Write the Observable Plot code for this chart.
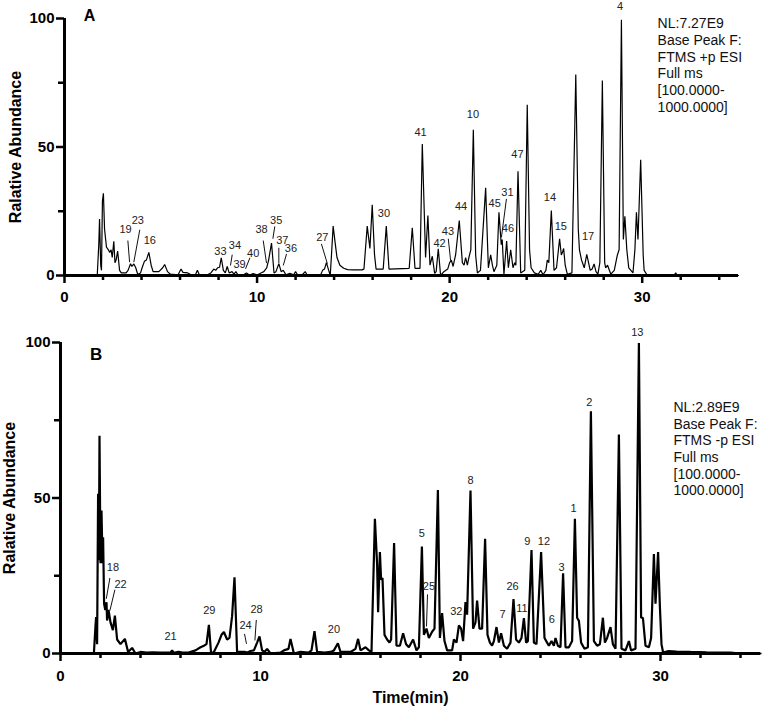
<!DOCTYPE html>
<html>
<head>
<meta charset="utf-8">
<script src="https://cdn.jsdelivr.net/npm/d3@7"></script>
<script src="https://cdn.jsdelivr.net/npm/@observablehq/plot@0.6"></script>
<style>
  html, body { margin: 0; padding: 0; background: #fff; }
  #chart { width: 764px; height: 712px; }
  #chart svg { display: block; }
</style>
</head>
<body>
<div id="chart"></div>
<script>
// ---------- Panel A (positive ion) ----------
const timeA = [0,1.70,1.78,1.82,1.88,1.92,1.97,2.02,2.08,2.18,2.28,2.35,2.42,2.48,2.56,2.62,2.68,2.76,2.86,2.95,3.2,3.3,3.43,3.5,3.6,3.7,3.8,3.95,4.03,4.15,4.25,4.38,4.5,4.6,4.9,5.1,5.2,5.35,5.5,5.9,6.05,6.15,6.4,6.6,6.8,6.9,7.0,7.4,7.6,7.75,7.85,7.95,8.05,8.14,8.25,8.35,8.45,8.55,8.7,8.8,8.9,9.0,9.3,9.45,9.6,9.8,10.0,10.2,10.35,10.5,10.6,10.75,10.88,10.98,11.13,11.25,11.36,11.5,11.7,11.9,12.0,12.1,12.35,12.5,12.6,13.3,13.4,13.5,13.6,13.72,13.8,13.88,13.95,14.05,14.15,14.3,14.5,14.7,15.0,15.45,15.55,15.72,15.86,15.98,16.1,16.18,16.55,16.71,16.85,17.9,18.06,18.2,18.46,18.58,18.75,18.87,18.98,19.1,19.22,19.3,19.41,19.53,19.7,19.9,20.0,20.09,20.18,20.22,20.31,20.5,20.66,20.75,20.83,20.92,21.0,21.1,21.23,21.35,21.44,21.6,21.87,22.01,22.13,22.22,22.3,22.45,22.56,22.68,22.73,22.82,22.96,23.05,23.17,23.29,23.38,23.44,23.55,23.69,23.9,24.03,24.15,24.23,24.4,24.6,24.73,24.85,25.0,25.07,25.15,25.28,25.42,25.55,25.71,25.8,25.86,25.92,26.0,26.11,26.35,26.55,26.68,26.74,26.85,26.99,27.12,27.3,27.4,27.5,27.6,27.7,27.8,27.93,28.05,28.1,28.2,28.37,28.55,28.71,28.8,28.92,29.02,29.1,29.2,29.3,29.52,29.62,29.7,29.78,29.92,30.05,30.1,30.27,31.65,31.74,31.82,35];
const abundA = [0,0,12,22,4,2,29,32,18,11,10,9,10,7,13.3,5,6,9.5,2,1,1,2,4.6,3.5,4.5,3,0.5,1,3,5.5,6,9,4,1.5,1.5,3,4.3,1.5,0.5,0.3,2.5,1.2,1,0.2,0.3,2,0.3,0.2,1,2.5,2,3,3.2,6.9,2,1,3.5,1,1.5,0.5,1.5,0.3,0.3,1,0.2,0.8,0.2,1,1.5,3,6,12.6,1,1.5,4.6,1.5,2,0.3,0.8,0.3,1.5,0.3,0.3,1.5,0.2,0.2,2,2.5,5,2,0,10,19.2,13,7,4,2.8,2.3,2.2,2.2,2.5,19.2,10.5,27.5,8,2.5,2.5,19.2,2.5,2.8,18.6,2.8,2.8,51.2,7,23.3,4,7.5,0.8,1.5,10.4,0,1.5,2.5,5,6,3.5,5,8,21.4,5,4,7,4,7,10,56.7,8,1,2,34.1,3,8,4,1.5,4,24.6,12,14,0.5,13.4,3,10,3,5,4,40.6,1,2,66.4,10,3,1,0.5,2,0.3,2,6,5,25.3,2,3,14.3,8,9,10.5,4,0.5,1,78.2,18,10,6,3,8.2,2,2.5,4.5,1.5,0.5,5,75.9,5,3,4,0.5,2,8,10,99.5,14,23,10,3,1,10,24.6,14,45,8,2,0,0,1,0,0];

const peakTextA = ["19","23","16","33","34","39","40","38","35","37","36","27","30","41","42","43","44","10","45","31","46","47","14","15","17","4"];
const peakTimeA = [3.17,3.81,4.43,8.10,8.85,9.09,9.80,10.23,10.99,11.31,11.76,13.39,16.59,18.49,19.48,19.91,20.59,21.21,22.34,23.0,23.03,23.52,25.21,25.77,27.19,28.85];
const peakAbundA = [17.9,21.4,13.6,9.3,11.6,4.2,8.7,17.9,21.4,13.6,10.4,14.9,24.0,55.5,12.3,17.2,26.8,62.5,28.1,32.4,18.2,47.0,30.5,19.1,15.2,104.7];

const leadT1A = [3.29,3.91,8.71,9.63,10.32,10.92,11.13,11.53,13.34,19.93,22.95];
const leadV1A = [13.6,17.8,8.1,6.9,13.6,19.1,10.8,8.4,12.3,14.3,29.8];
const leadT2A = [3.38,3.60,8.62,9.40,10.49,10.82,11.13,11.36,13.65,20.05,22.69];
const leadV2A = [5.2,5.2,3.9,2.6,4.8,14.3,4.8,3.9,4.6,5.8,14.9];

const infoA = ["NL:7.27E9","Base Peak F:","FTMS +p ESI","Full ms","[100.0000-","1000.0000]"];

// ---------- Panel B (negative ion) ----------
const timeB = [0,1.67,1.75,1.78,1.83,1.88,1.92,1.95,2.0,2.05,2.1,2.13,2.18,2.24,2.3,2.33,2.4,2.5,2.62,2.72,2.83,3.0,3.22,3.38,3.58,3.75,4.0,4.3,4.6,5.0,5.5,5.58,5.66,5.9,6.1,6.4,6.75,7.0,7.17,7.3,7.42,7.53,7.67,7.9,8.05,8.17,8.33,8.45,8.58,8.7,8.83,9.2,9.35,9.5,9.67,9.83,9.95,10.08,10.2,10.33,10.5,11.0,11.17,11.4,11.5,11.67,12.0,12.4,12.55,12.7,12.83,13.2,13.5,13.67,13.87,14.0,14.5,14.75,14.88,15.0,15.25,15.42,15.55,15.72,15.83,15.88,15.97,16.03,16.1,16.2,16.33,16.45,16.53,16.68,16.8,16.97,17.13,17.28,17.42,17.63,17.8,17.92,18.07,18.17,18.3,18.42,18.58,18.7,18.87,18.97,19.08,19.2,19.33,19.58,19.67,19.8,19.92,20.03,20.13,20.25,20.33,20.5,20.63,20.75,20.83,20.95,21.08,21.23,21.35,21.47,21.58,21.67,21.8,21.92,22.03,22.17,22.33,22.5,22.65,22.78,22.92,23.05,23.17,23.28,23.37,23.55,23.67,23.8,24.03,24.2,24.33,24.42,24.55,24.67,24.75,24.87,25.0,25.13,25.25,25.42,25.58,25.72,25.83,25.92,26.03,26.2,26.37,26.52,26.67,26.83,26.97,27.12,27.22,27.33,27.5,27.62,27.75,27.92,28.05,28.25,28.42,28.53,28.75,28.92,29.03,29.12,29.25,29.42,29.53,29.67,29.75,29.88,29.97,30.05,30.13,30.4,30.8,31.5,32.3,33.5,34,35];
const abundB = [0,0,9,11.7,3,51.4,30,70,29,46,29,37.4,16,14,16.5,10.6,14,10,7.5,12.2,4.5,3,4.7,0.5,1.8,0,0.5,0.3,0.4,0.3,0.3,1,0.2,0.5,0.3,0.3,1,2,2.5,3,9.2,0,0.5,3.5,6,6.9,4.5,5,12,24.5,0.5,0.5,0.3,0.8,1,3.5,5.5,1,0.5,1.5,0,0.3,1,1.5,4.7,0,0.5,0.3,1,7.2,0.5,0.3,0.5,1,3.3,0.5,0.5,1.5,4.7,1,2,1,0.5,43.3,28.8,13.3,32.6,23.7,24.3,6,4.5,3.5,4.5,35.5,2.5,2.5,6.5,3,2,4.5,1,2,34.4,6,8,5,7,8,52.6,5,13,4,1,1,4.5,3.5,9,8,4,16.5,12.5,52.4,8,10,17,8,8,36.9,6,3.5,2.5,4,8.5,3.5,6.5,2.5,1.5,3.5,17.5,4.5,3.5,5,11.4,3.5,4,33.3,3.5,3,32.6,5,3.5,2.5,4,2.5,5,2.5,2,25.8,2,2,4,43.3,11.5,10.5,3.5,1.5,2,77.9,4,2.5,3,11.5,3.5,5,8.5,3,1.5,70.4,1.5,1,4,1,1.5,99.8,11.5,11.5,2.5,2,5,32,16,32.6,15,3,0.3,0.8,0.6,0.5,0.4,0.3,0,0];

const peakTextB = ["18","22","21","29","24","28","20","5","25","32","8","7","26","11","9","12","6","3","1","2","13"];
const peakTimeB = [2.62,3.0,5.5,7.44,9.25,9.8,13.67,18.07,18.42,19.79,20.5,22.1,22.6,23.07,23.34,24.17,24.57,25.05,25.65,26.44,28.84];
const peakAbundB = [27.7,22.2,5.5,13.8,9.0,14.1,7.7,38.5,21.6,13.6,55.6,12.6,21.5,14.5,36.1,36.1,10.8,27.7,46.5,80.7,103.3];

const leadT1B = [2.47,2.72,9.2,9.79,18.35];
const leadV1B = [24.3,20.5,6.3,10.8,19.0];
const leadT2B = [2.29,2.47,9.3,9.72,18.3];
const leadV2B = [17.6,13.8,3.1,4.2,8.7];

const infoB = ["NL:2.89E9","Base Peak F:","FTMS -p ESI","Full ms","[100.0000-","1000.0000]"];

// ---------- shared axis values ----------
const xMajor = [0, 10, 20, 30];
const xMinor = [2,4,6,8,12,14,16,18,22,24,26,28,32,34];
const yMajor = [0, 50, 100];
const yMinor = [25, 75];

const FONT = "Arial, 'Liberation Sans', Helvetica, sans-serif";

function panel(cfg) {
  const idx = d3.range(cfg.time.length);
  const pk = d3.range(cfg.peakText.length);
  const ld = d3.range(cfg.lt1.length);
  return Plot.plot({
    width: 764,
    height: cfg.height,
    marginTop: cfg.mt, marginBottom: cfg.mb, marginLeft: cfg.ml, marginRight: cfg.mr,
    style: {fontFamily: FONT, color: "#000", background: "#fff", overflow: "visible"},
    x: {domain: [0, 35]},
    y: {domain: [0, 100]},
    marks: [
      Plot.axisX(xMinor, {tickSize: 5, strokeWidth: 2.5, tickFormat: () => "", label: null}),
      Plot.axisX(xMajor, {tickSize: 8, strokeWidth: 2.5, tickPadding: cfg.xpad, fontSize: 15, fontWeight: "bold", label: null}),
      Plot.axisY(yMinor, {tickSize: 6, strokeWidth: 2.5, tickFormat: () => "", label: null}),
      Plot.axisY(yMajor, {tickSize: 8, strokeWidth: 2.5, tickPadding: 2, fontSize: 15, fontWeight: "bold", label: null}),
      Plot.line(idx, {x: i => cfg.time[i], y: i => cfg.abund[i], stroke: "#000", strokeWidth: cfg.lw, strokeLinejoin: "miter"}),
      Plot.ruleY([0], {stroke: "#000", strokeWidth: 3}),
      Plot.ruleX([0], {stroke: "#000", strokeWidth: 3}),
      Plot.link(ld, {x1: i => cfg.lt1[i], y1: i => cfg.lv1[i], x2: i => cfg.lt2[i], y2: i => cfg.lv2[i], stroke: "#111", strokeWidth: 1}),
      Plot.text(pk, {x: i => cfg.peakTime[i], y: i => cfg.peakAbund[i], text: i => cfg.peakText[i], fontSize: 11, fill: "#222"}),
      Plot.text([cfg.info.join("\n")], {x: cfg.infoT, y: cfg.infoV, textAnchor: "start", lineAnchor: "top", fontSize: 14, lineHeight: 1.19, fill: "#111"}),
      Plot.text([cfg.letter], {x: cfg.letterT, y: cfg.letterV, fontSize: cfg.letterSize, fontWeight: "bold", fill: "#000"}),
      Plot.text(["Ralative Abundance"], {frameAnchor: "left", textAnchor: "middle", lineAnchor: "middle", rotate: -90, dx: cfg.ytdx, fontSize: 16, fontWeight: "bold", fill: "#000"}),
      ...(cfg.xtitle ? [Plot.text([cfg.xtitle], {frameAnchor: "bottom", textAnchor: "middle", lineAnchor: "middle", dy: 44, fontSize: 16, fontWeight: "bold", fill: "#000"})] : [])
    ]
  });
}

const chart = document.getElementById("chart");
chart.appendChild(panel({
  height: 318, mt: 18, mb: 43, ml: 64, mr: 26, xpad: 8, lw: 1.2,
  time: timeA, abund: abundA,
  peakText: peakTextA, peakTime: peakTimeA, peakAbund: peakAbundA,
  lt1: leadT1A, lv1: leadV1A, lt2: leadT2A, lv2: leadV2A,
  info: infoA, infoT: 30.8, infoV: 100.8,
  letter: "A", letterT: 1.3, letterV: 101, letterSize: 16,
  ytdx: -49
}));
chart.appendChild(panel({
  height: 394, mt: 24, mb: 59, ml: 60, mr: 4, xpad: 9, lw: 2.2,
  time: timeB, abund: abundB,
  peakText: peakTextB, peakTime: peakTimeB, peakAbund: peakAbundB,
  lt1: leadT1B, lv1: leadV1B, lt2: leadT2B, lv2: leadV2B,
  info: infoB, infoT: 30.65, infoV: 81.4,
  letter: "B", letterT: 1.78, letterV: 96, letterSize: 17,
  ytdx: -51, xtitle: "Time(min)"
}));
</script>
</body>
</html>
